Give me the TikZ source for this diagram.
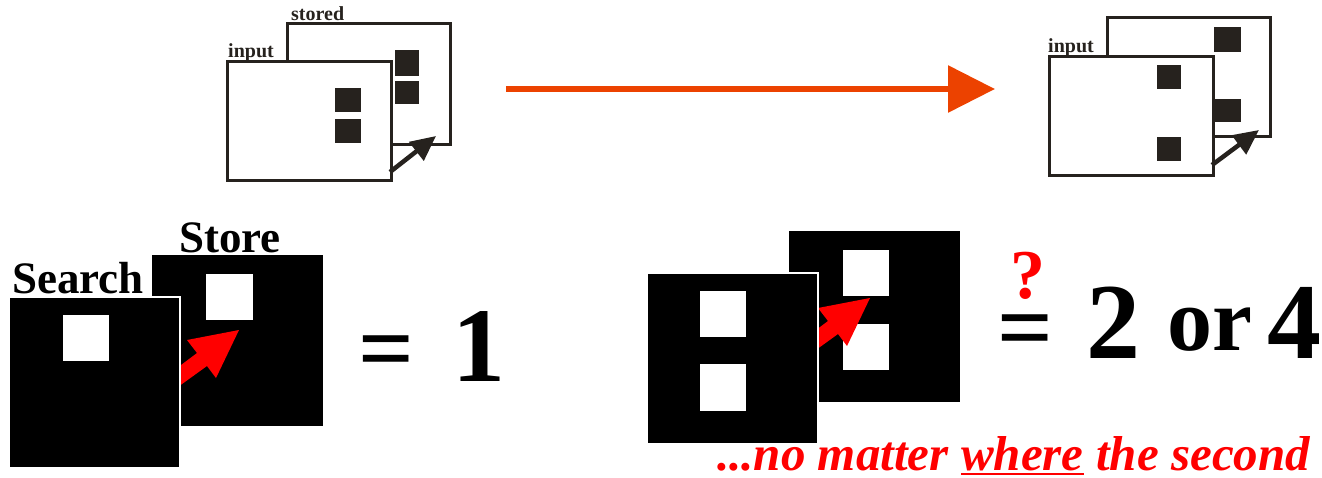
\documentclass[tikz,border=0pt]{standalone}
\usepackage{fontspec}
\setmainfont{Liberation Serif}
\usetikzlibrary{arrows.meta}
\definecolor{ink}{RGB}{38,34,30}
\definecolor{flowor}{RGB}{236,66,0}
\begin{document}
\begin{tikzpicture}[x=1pt,y=-1pt,
  frame/.style={draw=ink, line width=3pt, fill=white, inner sep=0pt, anchor=north west},
  blk/.style={fill=black, inner sep=0pt, anchor=north west, minimum width=171pt, minimum height=171pt},
  blkfront/.style={blk, draw=white, line width=1.5pt},
  lbl/.style={inner sep=0pt, anchor=base west, text=ink, font=\bfseries\fontsize{20}{20}\selectfont},
  ptr/.style={draw=ink, line width=4.5pt, -{Triangle[length=25pt,width=23pt]}},
  bigtxt/.style={inner sep=0pt, anchor=base, font=\bfseries\fontsize{#1}{#1}\selectfont},
  captxt/.style={inner sep=0pt, anchor=base west, text=red, font=\bfseries\itshape\fontsize{49}{49}\selectfont},
  redptr/.pic={\fill[red] (-78,50) -- (-42,23) -- (-52,10) -- (0,0) -- (-23,48) -- (-32,36) -- (-68,62) -- cycle;}
]
\useasboundingbox (0,0) rectangle (1322,477);

% ---------- top left ----------
\node[lbl] (tlstored) at (291,20) {stored};
\node[frame, minimum width=163pt, minimum height=121pt] (tlback) at (286,22) {};
\fill[ink] (395,50) rectangle (419,76);
\fill[ink] (395,81) rectangle (419,104);
\node[lbl] (tlinput) at (228,57) {input};
\node[frame, minimum width=164pt, minimum height=119pt] (tlfront) at (226,60) {};
\fill[ink] (335,88) rectangle (361,112);
\fill[ink] (335,119) rectangle (361,143);
\coordinate (tla0) at (390,172);
\coordinate (tla1) at (436,136);
\draw[ptr] (tla0) -- (tla1);

% ---------- flow arrow ----------
\coordinate (fa0) at (506,89);
\coordinate (fa1) at (995,89);
\draw[line width=6pt, flowor, -{Triangle[length=47pt,width=46pt]}] (fa0) -- (fa1);

% ---------- top right ----------
\node[frame, minimum width=163pt, minimum height=119pt] (trback) at (1106,16) {};
\fill[ink] (1214,27) rectangle (1241,52);
\fill[ink] (1214,99) rectangle (1241,122);
\node[lbl] (trinput) at (1048,52) {input};
\node[frame, minimum width=164pt, minimum height=119pt] (trfront) at (1048,55) {};
\fill[ink] (1157,65) rectangle (1181,89);
\fill[ink] (1157,137) rectangle (1181,161);
\coordinate (tra0) at (1212,165);
\coordinate (tra1) at (1259,130);
\draw[ptr] (tra0) -- (tra1);

% ---------- bottom left ----------
\node[bigtxt=45, anchor=base west] (store) at (179,252) {Store};
\node[blk] (blback) at (152,255) {};
\fill[white] (206,274) rectangle (253,320);
\pic at (239,330) {redptr};
\node[bigtxt=45, anchor=base west] (search) at (12,293) {Search};
\node[blkfront] (blfront) at (8,296) {};
\fill[white] (63,315) rectangle (109,361);
\node[bigtxt=98] (eq1) at (386,381) {=};
\node[bigtxt=106] (one) at (479,381) {1};

% ---------- bottom right ----------
\node[blk] (brback) at (789,231) {};
\fill[white] (843,250) rectangle (889,296);
\fill[white] (843,324) rectangle (889,370);
\pic at (870,298) {redptr};
\node[blkfront] (brfront) at (646,272) {};
\fill[white] (700,291) rectangle (746,337);
\fill[white] (700,364) rectangle (746,411);
\node[bigtxt=70, text=red] (qm) at (1028,298) {?};
\node[bigtxt=98] (eq2) at (1025,360) {=};
\node[bigtxt=108] (two) at (1113,358) {2};
\node[bigtxt=90] (or) at (1210,350) {or};
\node[bigtxt=108] (four) at (1294,358) {4};

% ---------- caption ----------
\node[captxt] (cap1) at (717,470) {...no matter};
\node[captxt] (cap2) at ([xshift=12.2pt]cap1.base east) {where};
\node[captxt] (cap3) at ([xshift=12.2pt]cap2.base east) {the second};
\draw[red, line width=2.5pt] ([yshift=-4pt]cap2.base west) -- ([yshift=-4pt]cap2.base east);
\end{tikzpicture}
\end{document}
